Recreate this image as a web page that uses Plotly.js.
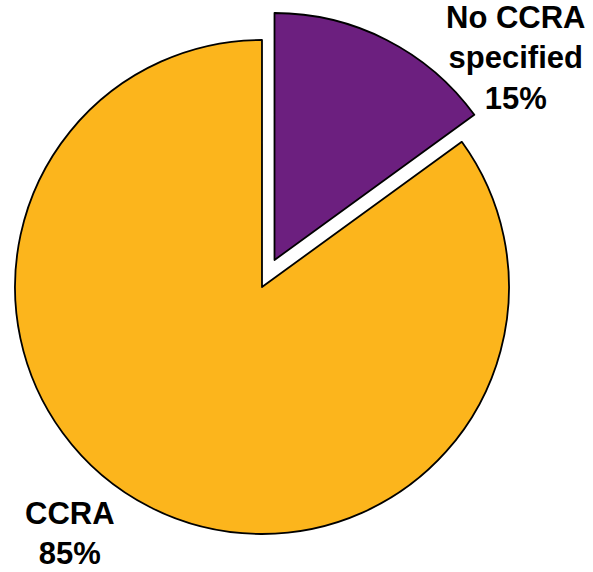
<!DOCTYPE html>
<html>
<head>
<meta charset="utf-8">
<script src="https://cdn.plot.ly/plotly-3.0.1.min.js"></script>
<style>html,body{margin:0;padding:0;background:#fff;}#chart{width:593px;height:572px;}</style>
</head>
<body>
<div id="chart"></div>
<script>
var categories = ['No CCRA specified', 'CCRA'];
var displayLabels = ['No CCRA<br>specified', 'CCRA'];
var values = [15, 85];
var sliceColors = ['#6C1F7F', '#FCB51C'];

var total = values.reduce(function(a, b){ return a + b; }, 0);
var pctText = values.map(function(v){ return Math.round(v / total * 100) + '%'; });

function sliceTrace(showIndex, domain) {
  return {
    type: 'pie',
    labels: categories,
    values: values,
    sort: false,
    direction: 'clockwise',
    rotation: 0,
    textinfo: 'none',
    hoverinfo: 'skip',
    showlegend: false,
    domain: domain,
    marker: {
      colors: sliceColors.map(function(c, i){ return i === showIndex ? c : 'rgba(0,0,0,0)'; }),
      line: {
        color: '#000000',
        width: sliceColors.map(function(c, i){ return i === showIndex ? 1.8 : 0; })
      }
    }
  };
}

var data = [
  sliceTrace(1, {x: [0.0253, 0.8583], y: [0.0664, 0.9301]}),
  sliceTrace(0, {x: [0.0464, 0.8794], y: [0.1136, 0.9773]})
];

var labelPos = [
  {x: 0.870, y: 0.898},
  {x: 0.118, y: 0.068}
];

var annotations = categories.map(function(c, i){
  return {
    text: '<b>' + displayLabels[i] + '<br>' + pctText[i] + '</b>',
    xref: 'paper', yref: 'paper',
    x: labelPos[i].x, y: labelPos[i].y,
    xanchor: 'center', yanchor: 'middle',
    showarrow: false,
    align: 'center',
    font: {family: 'Liberation Sans, Arial, sans-serif', size: 31, color: '#000000'}
  };
});

var layout = {
  width: 593, height: 572,
  margin: {l: 0, r: 0, t: 0, b: 0},
  paper_bgcolor: '#ffffff',
  plot_bgcolor: '#ffffff',
  showlegend: false,
  annotations: annotations
};

Plotly.newPlot('chart', data, layout, {displayModeBar: false, staticPlot: true});
</script>
</body>
</html>
